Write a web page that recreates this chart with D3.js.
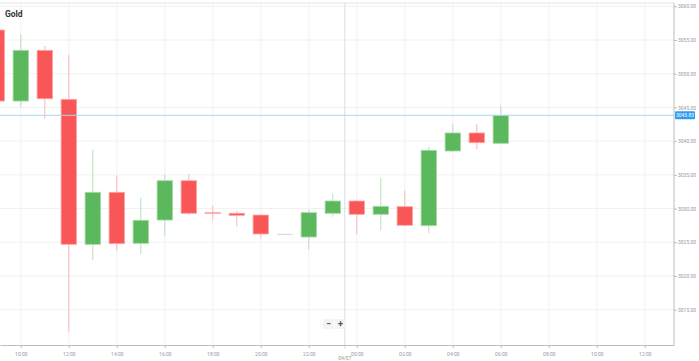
<!DOCTYPE html>
<html>
<head>
<meta charset="utf-8">
<script src="https://cdn.jsdelivr.net/npm/d3@7"></script>
<style>
  body { margin: 0; background: #fff; font-family: Roboto, sans-serif; }
</style>
</head>
<body>
<svg id="chart" width="699" height="361"></svg>
<script>
// hourly candles, Gold
const times = [
  '2025-04-06 09:00', '2025-04-06 10:00', '2025-04-06 11:00', '2025-04-06 12:00',
  '2025-04-06 13:00', '2025-04-06 14:00', '2025-04-06 15:00', '2025-04-06 16:00',
  '2025-04-06 17:00', '2025-04-06 18:00', '2025-04-06 19:00', '2025-04-06 20:00',
  '2025-04-06 21:00', '2025-04-06 22:00', '2025-04-06 23:00', '2025-04-07 00:00',
  '2025-04-07 01:00', '2025-04-07 02:00', '2025-04-07 03:00', '2025-04-07 04:00',
  '2025-04-07 05:00', '2025-04-07 06:00'
];
const opens  = [3056.48, 3045.95, 3053.47, 3046.20, 3024.70, 3032.41, 3024.85, 3028.30, 3034.13, 3029.41, 3029.30, 3029.04, 3026.25, 3025.78, 3029.30, 3031.12, 3029.15, 3030.28, 3027.46, 3038.54, 3041.21, 3039.68];
const highs  = [3056.48, 3055.84, 3054.11, 3052.77, 3038.73, 3034.93, 3031.67, 3035.02, 3035.12, 3030.42, 3029.68, 3029.04, 3026.25, 3029.89, 3032.26, 3031.34, 3034.53, 3032.65, 3039.13, 3042.58, 3042.54, 3045.31];
const lows   = [3045.50, 3045.02, 3043.33, 3011.74, 3022.37, 3023.75, 3023.26, 3025.93, 3029.04, 3028.20, 3027.31, 3025.59, 3026.25, 3023.96, 3028.79, 3026.18, 3026.72, 3027.52, 3026.33, 3038.34, 3038.83, 3039.68];
const closes = [3045.95, 3053.47, 3046.29, 3024.70, 3032.41, 3024.79, 3028.26, 3034.13, 3029.30, 3029.37, 3029.00, 3026.23, 3026.25, 3029.39, 3031.12, 3029.15, 3030.33, 3027.52, 3038.64, 3041.21, 3039.77, 3043.83];
const priceTicks = [3015, 3020, 3025, 3030, 3035, 3040, 3045, 3050, 3055, 3060];
const dayBreak = '2025-04-06 23:30';
const dayLabel = '04/07';

const parse = d3.timeParse('%Y-%m-%d %H:%M');
const candles = times.map((t, i) => ({
  date: parse(t), o: opens[i], h: highs[i], l: lows[i], c: closes[i]
}));

const plotTop = 3, plotBottom = 345, plotRight = 674;

const x = d3.scaleTime()
  .domain([parse('2025-04-06 09:08'), parse('2025-04-07 13:13')])
  .range([0, plotRight]);
const y = d3.scaleLinear().domain([3015, 3060]).range([309.7, 6.3]);

const svg = d3.select('#chart');
const hourTicks = x.ticks(d3.timeHour.every(2));

// grid
svg.append('g').selectAll('line').data(priceTicks).join('line')
  .attr('x1', 0).attr('x2', plotRight)
  .attr('y1', d => y(d)).attr('y2', d => y(d))
  .attr('stroke', '#f1f1f1');
svg.append('g').selectAll('line').data(hourTicks).join('line')
  .attr('x1', d => x(d)).attr('x2', d => x(d))
  .attr('y1', plotTop).attr('y2', plotBottom)
  .attr('stroke', '#f1f1f1');

// top border
svg.append('line').attr('x1', 0).attr('x2', plotRight)
  .attr('y1', plotTop).attr('y2', plotTop).attr('stroke', '#e2e2e2');

// day separator
const xb = x(parse(dayBreak));
svg.append('line').attr('x1', xb).attr('x2', xb)
  .attr('y1', plotTop).attr('y2', plotBottom + 4).attr('stroke', '#dcdcdc');
svg.append('text').attr('x', xb).attr('y', 360)
  .attr('text-anchor', 'middle').attr('font-size', 5).attr('fill', '#999')
  .text(dayLabel);

// candles
const bw = 15.4;
const green = '#5cb85c', red = '#f95757', flat = '#888';
const col = d => d.c > d.o ? green : (d.c < d.o ? red : flat);
const wickCol = d => d.c > d.o ? '#b9e2b9' : (d.c < d.o ? '#fcb8b8' : flat);

const g = svg.append('g');
g.selectAll('line').data(candles).join('line')
  .attr('x1', d => x(d.date)).attr('x2', d => x(d.date))
  .attr('y1', d => y(d.h)).attr('y2', d => y(d.l))
  .attr('stroke', wickCol).attr('stroke-width', 1);
g.selectAll('rect').data(candles).join('rect')
  .attr('x', d => x(d.date) - bw / 2)
  .attr('width', bw)
  .attr('y', d => y(Math.max(d.o, d.c)))
  .attr('height', d => Math.max(1, Math.abs(y(d.o) - y(d.c))))
  .attr('fill', col)
  .attr('stroke', d => d.c > d.o ? '#a6d8a6' : (d.c < d.o ? '#fca3a3' : 'none'))
  .attr('stroke-width', 0.8)
  .attr('fill-opacity', d => Math.abs(y(d.o) - y(d.c)) < 1 ? 0.35 : 1);

// current price line
const last = closes[closes.length - 1];
svg.append('line').attr('x1', 0).attr('x2', plotRight)
  .attr('y1', y(last)).attr('y2', y(last)).attr('stroke', '#a9d6f3');

// bottom axis
const xAxis = svg.append('g').attr('transform', `translate(0,${plotBottom})`)
  .call(d3.axisBottom(x).ticks(d3.timeHour.every(2)).tickFormat(d3.timeFormat('%H:%M')).tickSize(3).tickSizeOuter(0));
xAxis.select('.domain').attr('stroke', '#bdbdbd');
xAxis.selectAll('.tick line').attr('stroke', '#bdbdbd');
xAxis.selectAll('.tick text').attr('fill', '#999').attr('font-size', 5)
  .attr('font-family', 'Roboto, sans-serif').attr('dy', '0.9em');

// right axis
svg.append('line').attr('x1', plotRight).attr('x2', plotRight)
  .attr('y1', plotTop).attr('y2', plotBottom).attr('stroke', '#bdbdbd');
const yAxis = svg.append('g').attr('transform', `translate(${plotRight},0)`)
  .call(d3.axisRight(y).tickValues(priceTicks).tickFormat(d3.format('.2f')).tickSize(3));
yAxis.select('.domain').remove();
yAxis.selectAll('.tick line').attr('stroke', '#bdbdbd');
yAxis.selectAll('.tick text').attr('fill', '#999').attr('font-size', 5)
  .attr('font-family', 'Roboto, sans-serif').attr('x', 4);

// current price label
svg.append('rect').attr('x', plotRight + 1).attr('y', y(last) - 4)
  .attr('width', 20).attr('height', 8).attr('rx', 1).attr('fill', '#2e9cf0');
svg.append('text').attr('x', plotRight + 11).attr('y', y(last) + 1.8)
  .attr('text-anchor', 'middle').attr('font-size', 5).attr('fill', '#fff')
  .text(d3.format('.2f')(last));

// title
svg.append('text').attr('x', 5).attr('y', 17)
  .attr('font-size', 8.5).attr('font-weight', 'bold').attr('fill', '#333')
  .text('Gold');

// zoom buttons
const zb = svg.append('g').attr('transform', 'translate(323,319)');
['−', '+'].forEach((s, i) => {
  zb.append('rect').attr('x', i * 12).attr('width', 11).attr('height', 10)
    .attr('fill', '#f4f4f4').attr('rx', 1);
  zb.append('text').attr('x', i * 12 + 5.5).attr('y', 8)
    .attr('text-anchor', 'middle').attr('font-size', 9).attr('font-weight', 'bold')
    .attr('fill', '#555').text(s);
});
</script>
</body>
</html>
